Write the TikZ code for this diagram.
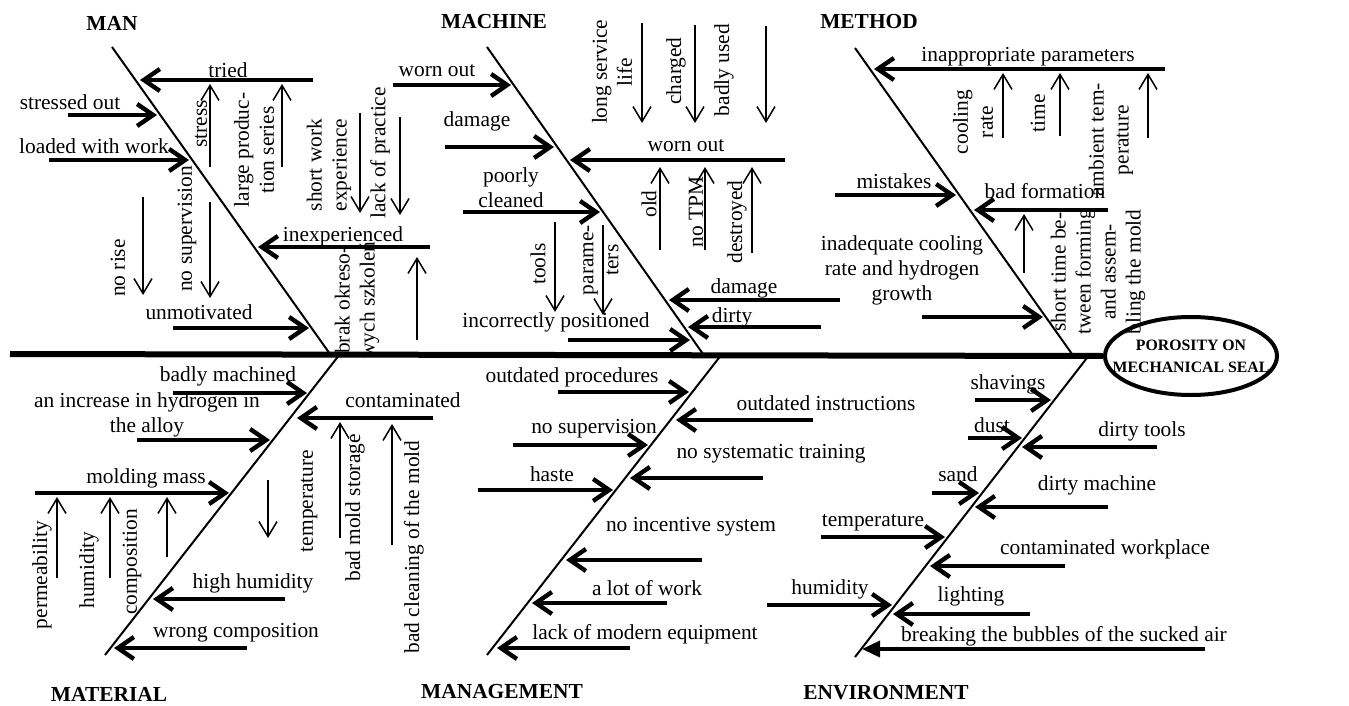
\documentclass[tikz,border=0pt]{standalone}
\usepackage{fontspec}
\setmainfont{Liberation Serif}
\usetikzlibrary{arrows.meta,shapes.geometric}
\newcommand{\lblfont}{\fontsize{10.7}{12.5}\selectfont}
\newcommand{\headfont}{\fontsize{7.9}{11}\selectfont\bfseries}

\begin{document}
\begin{tikzpicture}[
    x=0.5pt, y=-0.5pt,
    spine/.style={line width=3pt},
    bone/.style={line width=1pt},
    cause/.style={line width=2.2pt, -{Straight Barb[length=8pt,width=11pt]}},
    causetri/.style={line width=1.8pt, -{Triangle[length=9pt,width=8pt]}},
    subcause/.style={line width=0.75pt, -{Straight Barb[length=7.5pt,width=9pt]}},
    lbl/.style={inner sep=0pt, font=\lblfont},
    mlbl/.style={lbl, align=center},
    vlbl/.style={lbl, rotate=90, align=center},
    title/.style={inner sep=0pt, font=\lblfont\bfseries},
    effect/.style={draw, ellipse, line width=2pt, minimum width=86pt, minimum height=39pt, inner sep=0pt},
    effecttxt/.style={inner sep=0pt, align=center, font=\headfont}
]

% Background and page size
\fill[white] (0,0) rectangle (1349,706);
\useasboundingbox (0,0) rectangle (1349,706);

% 0. HEAD AND SPINE
\node[effect] (effect) at (1191,356) {};
\node[effecttxt] (effectTxt) at (effect) {POROSITY ON\\MECHANICAL SEAL};
\coordinate (tail) at (10,354);
\draw[spine] (tail) -- (effect.west);

% 1. MAN
\node[title] (man) at (112,23) {MAN};
\draw[bone] (112,47) -- (330,354);
\draw[cause] (313,80) -- (140,80);
\node[lbl] (manTried) at (228,70) {tried};
\draw[subcause] (210,167) -- (210,84);
\node[vlbl] (manStress) at (201,124) {stress};
\draw[subcause] (282,167) -- (282,84);
\node[vlbl] (manSeries) at (254,150) {large produc-\\tion series};
\draw[cause] (68,115) -- (157,115);
\node[lbl] (manStressed) at (70,102) {stressed out};
\draw[cause] (49,160) -- (189,160);
\node[lbl] (manLoaded) at (94,146) {loaded with work};
\draw[subcause] (360,113) -- (360,213);
\node[vlbl] (manShort) at (329,165) {short work\\experience};
\draw[subcause] (400,117) -- (400,215);
\node[vlbl] (manPractice) at (380,153) {lack of practice};
\draw[cause] (430,247) -- (258,247);
\node[lbl] (manInexp) at (343,236) {inexperienced};
\draw[subcause] (417,340) -- (417,257);
\node[vlbl] (manTraining) at (357,300) {brak okreso-\\wych szkoleń};
\draw[subcause] (143,197) -- (143,295);
\node[vlbl] (manRise) at (118,268) {no rise};
\draw[subcause] (210,202) -- (210,298);
\node[vlbl] (manSuperv) at (187,229) {no supervision};
\draw[cause] (173,328) -- (309,328);
\node[lbl] (manUnmot) at (199,312) {unmotivated};

% 2. MACHINE
\node[title] (machine) at (494,22) {MACHINE};
\draw[bone] (487,47) -- (703,354);
\draw[cause] (393,85) -- (511,85);
\node[lbl] (macWornL) at (437,71) {worn out};
\draw[cause] (445,147) -- (554,147);
\node[lbl] (macDamageL) at (477,121) {damage};
\draw[cause] (785,160) -- (570,160);
\node[lbl] (macWornR) at (686,146) {worn out};
\draw[subcause] (642,23) -- (642,123);
\node[vlbl] (macLife) at (612,72) {long service\\life};
\draw[subcause] (695,25) -- (695,123);
\node[vlbl] (macCharged) at (676,71) {charged};
\draw[subcause] (766,26) -- (766,123);
\node[vlbl] (macBadly) at (724,70) {badly used};
\draw[subcause] (660,250) -- (660,167);
\node[vlbl] (macOld) at (649,204) {old};
\draw[subcause] (705,250) -- (705,167);
\node[vlbl] (macTpm) at (696,212) {no TPM};
\draw[subcause] (752,253) -- (752,167);
\node[vlbl] (macDestroyed) at (737,222) {destroyed};
\draw[cause] (463,212) -- (600,212);
\node[mlbl] (macCleaned) at (511,188) {poorly\\cleaned};
\draw[subcause] (555,222) -- (555,312);
\node[vlbl] (macTools) at (538,264) {tools};
\draw[subcause] (603,225) -- (603,315);
\node[vlbl] (macParams) at (601,260) {parame-\\ters};
\draw[cause] (840,300) -- (669,300);
\node[lbl] (macDamageR) at (744,288) {damage};
\draw[cause] (821,327) -- (688,327);
\node[lbl] (macDirty) at (732,317) {dirty};
\draw[cause] (568,340) -- (690,340);
\node[lbl] (macPositioned) at (556,322) {incorrectly positioned};

% 3. METHOD
\node[title] (method) at (869,22) {METHOD};
\draw[bone] (855,48) -- (1072,354);
\draw[cause] (1165,69) -- (874,69);
\node[lbl] (metParams) at (1028,57) {inappropriate parameters};
\draw[subcause] (1003,138) -- (1003,73);
\node[vlbl] (metCooling) at (973,122) {cooling\\rate};
\draw[subcause] (1060,136) -- (1060,73);
\node[vlbl] (metTime) at (1038,113) {time};
\draw[subcause] (1148,138) -- (1148,73);
\node[vlbl] (metAmbient) at (1111,140) {ambient tem-\\perature};
\draw[cause] (835,195) -- (956,195);
\node[lbl] (metMistakes) at (894,181) {mistakes};
\draw[cause] (1108,210) -- (974,210);
\node[lbl] (metFormation) at (1045,191) {bad formation};
\draw[subcause] (1024,273) -- (1024,214);
\node[vlbl] (metShortTime) at (1098,272) {short time be-\\tween forming\\and assem-\\bling the mold};
\draw[cause] (922,317) -- (1043,317);
\node[mlbl] (metInadequate) at (902,270) {inadequate cooling\\rate and hydrogen\\growth};

% 4. MATERIAL
\node[title] (material) at (109,694) {MATERIAL};
\draw[bone] (340,354) -- (105,655);
\draw[cause] (173,393) -- (307,393);
\node[lbl] (matMachined) at (228,376) {badly machined};
\draw[cause] (137,440) -- (270,440);
\node[mlbl] (matHydrogen) at (147,415) {an increase in hydrogen in\\the alloy};
\draw[cause] (433,418) -- (297,418);
\node[lbl] (matContam) at (403,400) {contaminated};
\draw[cause] (35,493) -- (229,493);
\node[lbl] (matMolding) at (146,478) {molding mass};
\draw[subcause] (57,578) -- (57,497);
\node[vlbl] (matPerm) at (42,575) {permeability};
\draw[subcause] (110,578) -- (110,497);
\node[vlbl] (matHumid) at (89,570) {humidity};
\draw[subcause] (167,557) -- (167,497);
\node[vlbl] (matComp) at (132,562) {composition};
\draw[subcause] (268,480) -- (268,538);
\node[vlbl] (matTemp) at (309,501) {temperature};
\draw[subcause] (340,538) -- (340,422);
\node[vlbl] (matStorage) at (355,508) {bad mold storage};
\draw[subcause] (392,545) -- (392,424);
\node[vlbl] (matCleaning) at (414,547) {bad cleaning of the mold};
\draw[cause] (285,599) -- (153,599);
\node[lbl] (matHighHum) at (253,583) {high humidity};
\draw[cause] (247,648) -- (114,648);
\node[lbl] (matWrong) at (236,633) {wrong composition};

% 5. MANAGEMENT
\node[title] (management) at (502,692) {MANAGEMENT};
\draw[bone] (722,354) -- (487,655);
\draw[cause] (558,392) -- (689,392);
\node[lbl] (mgtProc) at (572,377) {outdated procedures};
\draw[cause] (813,420) -- (676,420);
\node[lbl] (mgtInstr) at (826,403) {outdated instructions};
\draw[cause] (513,445) -- (648,445);
\node[lbl] (mgtSuperv) at (594,429) {no supervision};
\draw[cause] (763,478) -- (630,478);
\node[lbl] (mgtTraining) at (771,454) {no systematic training};
\draw[cause] (478,490) -- (613,490);
\node[lbl] (mgtHaste) at (552,474) {haste};
\draw[cause] (702,560) -- (566,560);
\node[lbl] (mgtIncentive) at (691,527) {no incentive system};
\draw[cause] (667,603) -- (532,603);
\node[lbl] (mgtWork) at (647,588) {a lot of work};
\draw[cause] (630,648) -- (497,648);
\node[lbl] (mgtEquip) at (645,634) {lack of modern equipment};

% 6. ENVIRONMENT
\node[title] (environment) at (886,693) {ENVIRONMENT};
\draw[bone] (1090,354) -- (855,657);
\draw[cause] (975,400) -- (1051,400);
\node[lbl] (envShavings) at (1008,384) {shavings};
\draw[cause] (968,438) -- (1022,438);
\node[lbl] (envDust) at (992,425) {dust};
\draw[cause] (1157,447) -- (1022,447);
\node[lbl] (envTools) at (1142,431) {dirty tools};
\draw[cause] (932,493) -- (979,493);
\node[lbl] (envSand) at (958,474) {sand};
\draw[cause] (1108,507) -- (975,507);
\node[lbl] (envMachine) at (1097,485) {dirty machine};
\draw[cause] (821,537) -- (945,537);
\node[lbl] (envTemp) at (873,523) {temperature};
\draw[cause] (1065,566) -- (930,566);
\node[lbl] (envWorkplace) at (1105,549) {contaminated workplace};
\draw[cause] (767,605) -- (892,605);
\node[lbl] (envHumid) at (830,589) {humidity};
\draw[cause] (1030,614) -- (893,614);
\node[lbl] (envLight) at (971,596) {lighting};
\draw[causetri] (1205,649) -- (862,649);
\node[lbl] (envBubbles) at (1064,636) {breaking the bubbles of the sucked air};

\end{tikzpicture}
\end{document}
